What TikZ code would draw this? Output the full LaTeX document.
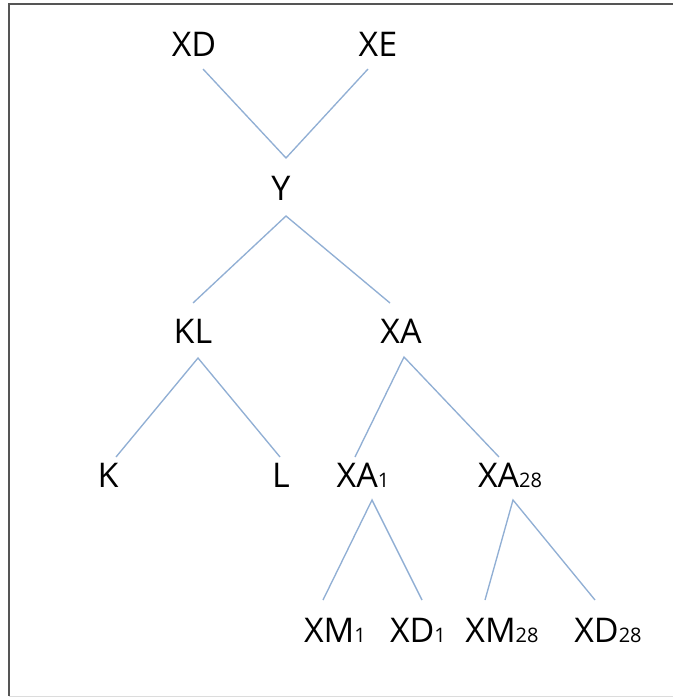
\documentclass[tikz,border=0pt]{standalone}
\usepackage{fontspec}
\setmainfont{Open Sans}
\definecolor{branch}{RGB}{145,175,212}
\definecolor{framedark}{RGB}{85,85,85}
\definecolor{framelight}{RGB}{220,220,220}
\newcommand{\sub}[1]{{\fontsize{20}{20}\selectfont #1}}
\begin{document}
\begin{tikzpicture}[x=1pt,y=-1pt,
  lab/.style={anchor=base,inner sep=0pt,font=\fontsize{34}{34}\selectfont},
  branchline/.style={draw=branch,line width=1.35pt}]
\useasboundingbox (0,0) rectangle (673,698);
% outer frame (left, top, bottom)
\draw[framedark,line width=2pt] (9,696) -- (9,4) -- (673,4);
\draw[framelight,line width=1.5pt] (9,696.5) -- (673,696.5);

% labels
\node[lab] (XD) at (194,57) {XD};
\node[lab] (XE) at (378,57) {XE};
\node[lab] (Y) at (281,200) {Y};
\node[lab] (KL) at (193,343) {KL};
\node[lab] (XA) at (401,343) {XA};
\node[lab] (K) at (108,487) {K};
\node[lab] (L) at (281,487) {L};
\node[lab] (XAa) at (363,487) {XA\sub{1}};
\node[lab] (XAb) at (510,487) {XA\sub{28}};
\node[lab] (XMa) at (335,642) {XM\sub{1}};
\node[lab] (XDa) at (418,642) {XD\sub{1}};
\node[lab] (XMb) at (502,642) {XM\sub{28}};
\node[lab] (XDb) at (608,642) {XD\sub{28}};

% branch end points
\coordinate (XDfoot) at (203,69);
\coordinate (XEfoot) at (368,69);
\coordinate (Yhead) at (286,158);
\coordinate (Yfoot) at (286,216);
\coordinate (KLhead) at (193,303);
\coordinate (XAhead) at (390,303);
\coordinate (KLfoot) at (198,358);
\coordinate (Khead) at (116,457);
\coordinate (Lhead) at (280,457);
\coordinate (XAfoot) at (404,357);
\coordinate (XAahead) at (355,457);
\coordinate (XAbhead) at (499,457);
\coordinate (XAafoot) at (372,500);
\coordinate (XMahead) at (323,600);
\coordinate (XDahead) at (422,600);
\coordinate (XAbfoot) at (513,500);
\coordinate (XMbhead) at (485,600);
\coordinate (XDbhead) at (595,600);

% branches
\draw[branchline] (XDfoot) -- (Yhead) -- (XEfoot);
\draw[branchline] (KLhead) -- (Yfoot) -- (XAhead);
\draw[branchline] (Khead) -- (KLfoot) -- (Lhead);
\draw[branchline] (XAahead) -- (XAfoot) -- (XAbhead);
\draw[branchline] (XMahead) -- (XAafoot) -- (XDahead);
\draw[branchline] (XMbhead) -- (XAbfoot) -- (XDbhead);
\end{tikzpicture}
\end{document}
